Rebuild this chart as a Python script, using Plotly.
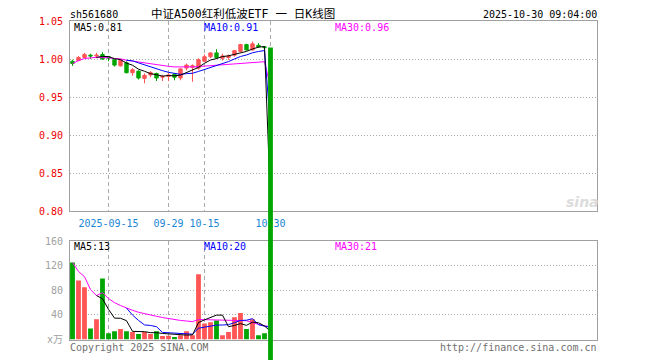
import plotly.graph_objects as go
import pandas as pd

# ---------------- data ----------------
dates = ["2025-09-05", "2025-09-08", "2025-09-09", "2025-09-10", "2025-09-11", "2025-09-12",
         "2025-09-15", "2025-09-16", "2025-09-17", "2025-09-18", "2025-09-19",
         "2025-09-22", "2025-09-23", "2025-09-24", "2025-09-25", "2025-09-26",
         "2025-09-29", "2025-09-30", "2025-10-09", "2025-10-10",
         "2025-10-13", "2025-10-14", "2025-10-15", "2025-10-16", "2025-10-17",
         "2025-10-20", "2025-10-21", "2025-10-22", "2025-10-23", "2025-10-24",
         "2025-10-27", "2025-10-28", "2025-10-29", "2025-10-30"]

opens = [0.997, 0.998, 1.002, 1.005, 1.004, 1.006, 1.003, 0.999, 0.991, 0.995,
         0.982, 0.984, 0.9745, 0.979, 0.981, 0.976, 0.977, 0.980, 0.975, 0.988,
         0.989, 0.988, 0.997, 1.003, 1.008, 1.001, 1.002, 1.005, 1.010, 1.019,
         1.012, 1.018, 1.016, 1.015]
closes = [0.994, 1.002, 1.006, 1.004, 1.005, 1.000, 1.001, 0.992, 0.998, 0.982,
          0.986, 0.975, 0.9785, 0.982, 0.975, 0.977, 0.979, 0.976, 0.987, 0.992,
          0.991, 0.999, 1.003, 1.008, 1.002, 1.004, 1.004, 1.011, 1.019, 1.012,
          1.020, 1.016, 1.015, 0.0]
highs = [0.999, 1.004, 1.008, 1.007, 1.008, 1.009, 1.004, 1.000, 1.000, 0.997,
         0.988, 0.985, 0.981, 0.984, 0.982, 0.979, 0.981, 0.981, 0.988, 0.994,
         0.993, 1.001, 1.006, 1.009, 1.013, 1.007, 1.006, 1.012, 1.020, 1.020,
         1.023, 1.021, 1.016, 1.015]
lows = [0.991, 0.997, 1.001, 1.000, 1.001, 0.999, 0.997, 0.990, 0.990, 0.981,
        0.978, 0.973, 0.968, 0.976, 0.971, 0.971, 0.971, 0.972, 0.972, 0.985,
        0.970, 0.986, 0.996, 1.001, 1.000, 0.998, 0.999, 1.003, 1.009, 1.011,
        1.011, 1.015, 1.014, 0.0]
volumes = [125, 96, 85, 18, 33, 99, 10, 13.5, 17, 13.5,
           12, 9, 12, 9, 13.5, 5.5, 6, 4, 7, 13.5,
           7, 106, 26, 28, 31, 7, 12, 36, 43, 17,
           33, 7, 10, 0]

price_ticks = [0.80, 0.85, 0.90, 0.95, 1.00, 1.05]
vol_ticks = [0, 40, 80, 120, 160]
vol_tick_text = ["x万", "40", "80", "120", "160"]
date_ticks = ["2025-09-15", "2025-09-29", "2025-10-15", "2025-10-30"]
date_tick_text = ["2025-09-15", "09-29", "10-15", "10-30"]

title_code = "sh561680"
title_name = "中证A500红利低波ETF 一 日K线图"
title_time = "2025-10-30 09:04:00"

# ---------------- derived ----------------
cs = pd.Series(closes)
vs = pd.Series(volumes)
ma5 = cs.rolling(5, min_periods=5).mean()
ma10 = cs.rolling(10, min_periods=10).mean()
ma30 = cs.rolling(30, min_periods=1).mean()
vma5 = vs.rolling(5, min_periods=5).mean()
vma10 = vs.rolling(10, min_periods=10).mean()
vma30 = vs.rolling(30, min_periods=1).mean()

UP = "#ff5555"
DOWN = "#00a600"
vol_colors = [UP if c >= o else DOWN for o, c in zip(opens, closes)]

# page body has an 8px margin: figure is placed at (8, 8) inside the 660x360 window
OFF = 8
W, H = 660 - OFF, 360 - OFF
def px(x):
    return (x - OFF) / W
def py(y):
    return 1 - (y - OFF) / H

FONT = "DejaVu Sans Mono"
GRID = "#aaaaaa"
FRAME = "#a0a0a0"

fig = go.Figure()

fig.add_trace(go.Candlestick(
    x=dates[:-1], open=opens[:-1], high=highs[:-1], low=lows[:-1], close=closes[:-1],
    increasing=dict(line=dict(color=UP, width=1), fillcolor=UP),
    decreasing=dict(line=dict(color=DOWN, width=1), fillcolor=DOWN),
    whiskerwidth=0, xaxis="x", yaxis="y", hoverinfo="skip"))

for s, col in [(ma30, "#ff00ff"), (ma10, "#0000ff"), (ma5, "#000000")]:
    fig.add_trace(go.Scatter(x=dates, y=s, mode="lines",
                             line=dict(color=col, width=1),
                             xaxis="x", yaxis="y", hoverinfo="skip"))

fig.add_trace(go.Bar(x=dates, y=volumes, marker=dict(color=vol_colors, line=dict(width=0)),
                     width=0.8, xaxis="x2", yaxis="y2", hoverinfo="skip"))
for s, col in [(vma30, "#ff00ff"), (vma10, "#0000ff"), (vma5, "#000000")]:
    fig.add_trace(go.Scatter(x=dates, y=s, mode="lines",
                             line=dict(color=col, width=1),
                             xaxis="x2", yaxis="y2", hoverinfo="skip"))

# last (collapsing) candle, drawn across the whole chart height
fig.add_trace(go.Bar(x=[dates[-1]], y=[opens[-1] - closes[-1]], base=[closes[-1]],
                     marker=dict(color=DOWN, line=dict(width=0)), width=0.8,
                     xaxis="x3", yaxis="y3", hoverinfo="skip"))

# ---------------- layout ----------------
x_dom = [px(70), px(597)]
price_dom = [py(211), py(21)]
vol_dom = [py(339.5), py(241)]
px_per_unit = (211 - 21) / (1.05 - 0.80)
y3_low = 1.05 - (360 - 21) / px_per_unit
xrange = [(70 - 72.5) / 6, (597 - 72.5) / 6]

def xax(**kw):
    d = dict(type="category", categoryorder="array", categoryarray=dates,
             range=xrange, autorange=False, domain=x_dom, tickvals=date_ticks,
             ticktext=date_tick_text, showgrid=True, griddash="4px,3px", gridcolor=GRID,
             gridwidth=1, showline=True, mirror=True, linecolor=FRAME, linewidth=1,
             ticks="", zeroline=False, fixedrange=True, automargin=False)
    d.update(kw)
    return d

fig.update_layout(
    width=W, height=H, margin=dict(l=0, r=0, t=0, b=0, autoexpand=False),
    paper_bgcolor="white", plot_bgcolor="rgba(0,0,0,0)", showlegend=False,
    boxgap=0.2, bargap=0.2,
    font=dict(family=FONT, size=10, color="#000000"),
    xaxis=xax(anchor="y", rangeslider=dict(visible=False), ticklabelstandoff=3,
              tickfont=dict(family=FONT, size=10, color="#1a86d6")),
    xaxis2=xax(anchor="y2", showticklabels=False),
    xaxis3=xax(anchor="y3", visible=False, showgrid=False, showline=False),
    yaxis=dict(domain=price_dom, range=[0.80, 1.05], autorange=False, tickvals=price_ticks,
               ticktext=["%.2f" % v for v in price_ticks],
               tickfont=dict(family=FONT, size=10, color="#ee0000"),
               showgrid=True, griddash="1px,2px", gridcolor=GRID,
               showline=True, mirror=True, linecolor=FRAME, linewidth=1,
               zeroline=False, ticks="", ticklabelstandoff=4, anchor="x",
               fixedrange=True, automargin=False),
    yaxis2=dict(domain=vol_dom, range=[0, 160], autorange=False, tickvals=vol_ticks,
                ticktext=vol_tick_text,
                tickfont=dict(family="DejaVu Sans Mono, Noto Sans CJK SC", size=10, color="#a0a0a0"),
                showgrid=True, griddash="1px,2px", gridcolor=GRID,
                showline=True, mirror=True, linecolor=FRAME, linewidth=1,
                zeroline=False, ticks="", ticklabelstandoff=4, anchor="x2",
                fixedrange=True, automargin=False),
    yaxis3=dict(domain=[0, py(21)], range=[y3_low, 1.05], autorange=False, visible=False,
                anchor="x3", fixedrange=True),
)

def note(text, x, y, color="#000000", size=10, xanchor="left", family=FONT, **kw):
    fig.add_annotation(text=text, x=px(x), y=py(y), xref="paper", yref="paper",
                       xanchor=xanchor, yanchor="middle", showarrow=False,
                       borderpad=0, height=size + 1, valign="middle",
                       font=dict(family=family, size=size, color=color, **kw))

note(title_code, 69, 14)
note(title_name, 150, 14, size=11.5, family="DejaVu Sans Mono, Noto Sans CJK SC")
note(title_time, 598, 14, xanchor="right")

note("MA5:%.2f" % ma5.iloc[-1], 73, 27.5)
note("MA10:%.2f" % ma10.iloc[-1], 203, 27.5, color="#0000ff")
note("MA30:%.2f" % ma30.iloc[-1], 334, 27.5, color="#ff00ff")

note("MA5:%d" % round(vma5.iloc[-1]), 73, 246)
note("MA10:%d" % round(vma10.iloc[-1]), 203, 246, color="#0000ff")
note("MA30:%d" % round(vma30.iloc[-1]), 334, 246, color="#ff00ff")

note("Copyright 2025 SINA.COM", 69, 347, color="#707070")
note("http://finance.sina.com.cn", 598, 347, color="#707070", xanchor="right")
note("sina", 582, 201, color="#dcdcdc", size=14, xanchor="center",
     family="DejaVu Sans", weight="bold", style="italic")

fig.write_html("out.html")
